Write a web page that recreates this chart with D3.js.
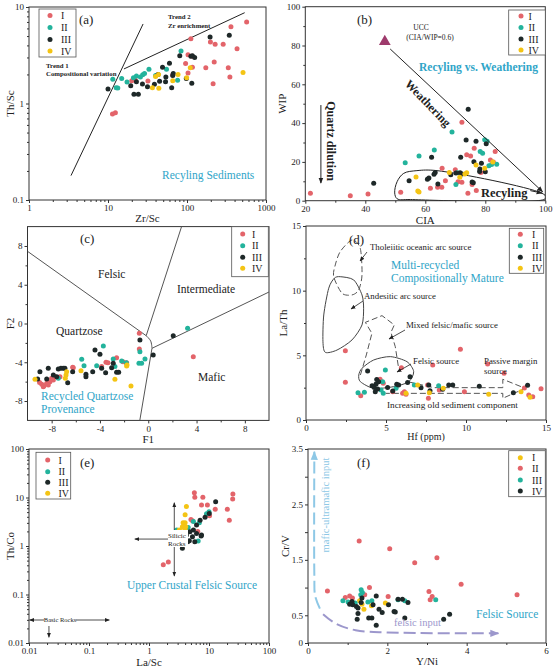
<!DOCTYPE html>
<html><head><meta charset="utf-8">
<script src="https://cdn.jsdelivr.net/npm/d3@7"></script>
<style>
body{margin:0;background:#fff}
svg{display:block}
text{font-family:"Liberation Serif","Times New Roman",serif}
</style>
</head><body>
<svg id="c" width="554" height="670"></svg>
<script>
// ---------------- DATA ----------------
const groups = ["I","II","III","IV"];
// (a) Zr/Sc vs Th/Sc
const aI   = [[569,7.0],[360,6.25],[112,4.7],[198,4.33],[227,4.1],[287,4.1],[430,3.7],[103,3.2],[116,3.08],[96,2.6],[221,2.69],[173,2.35],[333,2.35],[349,1.88],[214,1.6],[117,2.37],[103,2.07],[66,1.97],[32,1.71],[20,1.72],[22,1.77],[11.4,0.78],[12.4,0.80]];
const aII  = [[84,3.5],[33,2.26],[55,2.26],[14.9,1.82],[17.4,1.67],[22.9,1.93],[25.7,1.88],[27.5,1.99],[29,2.05],[12.7,1.46],[13.3,1.45],[11.5,1.78],[76,1.74],[21,1.85],[40,1.95]];
const aIII = [[343,5.1],[196,4.9],[81,3.13],[112,3.08],[117,3.13],[125,3.0],[60,2.61],[49,2.37],[67,2.04],[54,1.88],[19.4,1.53],[22.9,1.68],[27.3,1.59],[38.7,1.58],[31.6,1.49],[53.5,1.68],[64,1.46],[115,1.62],[98,1.82],[21.3,1.25],[24.2,1.25],[10,1.41],[43,2.0],[66,1.95],[45,1.7]];
const aIV  = [[110,2.35],[512,2.1],[43.6,2.0],[77,2.0],[99,1.85],[44,1.44],[36.5,1.46],[66,1.72],[40,1.9]];
const aTrend1 = [[3.4,0.179],[27.8,6.67]];
const aTrend2 = [[15.9,2.28],[537,8.73]];
const logTicksA_x = [1,10,100,1000];
const logTicksA_y = [0.1,1,10];

// (b) CIA vs WIP
const bI   = [[21.7,3.8],[35,2.6],[40.9,3.5],[72.2,40.4],[76.3,27],[73.8,23.7],[75.1,23],[83.3,25.3],[81.7,21],[82.7,20],[65.6,16.7],[66.7,10.3],[64.1,6.9],[65.5,6.9],[61.7,6.4],[70.9,9.8],[72.2,9.5],[75.6,8.3],[51.8,4.3],[74.2,3.8],[77,5.2],[78.5,14.5],[70,16]];
const bII  = [[53.3,19.6],[57.9,23],[68.9,35.4],[63,26.1],[79.8,31.4],[80.6,30.6],[78.3,25.3],[79.1,24.4],[81.2,18],[82.1,18.6],[83.8,18.8],[70.7,14.4],[71.9,13.8],[70.2,8.4]];
const bIII = [[42.8,9.0],[74.3,47.1],[73.6,31.3],[76.9,30.6],[80.3,29.4],[71.8,22.4],[62.1,22.4],[76.2,20.1],[78.7,19.3],[78.2,16.3],[78.1,15.1],[80,14.9],[63.3,14.6],[62.9,13.6],[68.5,13.4],[70.2,14.3],[71.6,14.4],[72.2,13.8],[61.2,11.7],[60.7,11],[54.6,10.3],[64.2,8.6],[75.6,9.6],[76,9.3]];
const bIV  = [[82.5,20],[79.8,16.7],[76.9,18.4],[68,14.6],[73.8,14.4],[73.2,13.8],[71.5,12.1],[56.9,12.2],[57.5,5],[57.9,4.5]];
const bUCC = [46.5,82];
const bWeathering = [[48.3,78.2],[99.1,4.6]];
const bRecycling = [[63.9,15.5],[98.8,3.9],[100.3,1.9],[99.5,0.6],[55,0.6],[50.6,1.0],[49.8,4],[50.6,9.8],[52.8,14.1],[57.2,15.5]];
const bQuartz = [[25.2,49.3],[25.2,9.1]];

// (c) F1 vs F2
const cI   = [[-0.74,-1.01],[-0.74,-2.63],[3.73,-3.42],[-3.5,-4.0],[-2.62,-3.53],[-1.79,-4.04],[-3.86,-4.45],[-6.21,-4.56],[-7.31,-5.49],[-8.82,-6.27],[-8.63,-6.42],[-8.41,-6.17],[-8.14,-6.0],[-7.86,-5.83],[-8.0,-5.66],[-8.28,-6.35],[-8.69,-6.52],[-2.09,-3.94],[-6.26,-4.52],[-3.34,-4.04],[-9.0,-6.1],[-7.7,-5.5]];
const cII  = [[-0.77,-4.1],[-0.55,-4.1],[-0.27,-3.66],[-0.69,-2.91],[3.26,-0.5],[-3.72,-2.32],[-2.9,-3.66],[-2.76,-4.45],[-2.2,-3.87],[-4.27,-4.35],[-5.51,-3.7],[-5.32,-4.35],[-7.45,-5.66],[-1.82,-4.04]];
const cIII = [[-0.69,-1.70],[0.41,-3.25],[2.07,-1.26],[-4.41,-2.73],[-4.0,-3.18],[-2.9,-4.1],[-3.03,-4.56],[-3.86,-4.63],[-2.62,-5.04],[-4.6,-4.97],[-5.16,-5.24],[-5.16,-5.49],[-6.26,-4.97],[-7.23,-4.63],[-7.04,-4.63],[-6.9,-4.63],[-6.67,-6.11],[-7.45,-4.7],[-7.58,-5.49],[-8.28,-4.63],[-8.97,-4.97],[-7.86,-5.31],[-8.41,-5.73],[-9.16,-5.73],[-2.45,-5.04],[-3.53,-5.07]];
const cIV  = [[-1.79,-4.39],[-2.76,-5.76],[-1.43,-6.45],[-5.57,-4.87],[-6.81,-5.31],[-6.76,-4.97],[-6.87,-5.66],[-9.38,-5.76],[-1.76,-4.28]];
const cLine1 = [[-10,7.45],[-0.17,-1.26]];
const cLine2 = [[2.76,10],[-0.17,-1.26]];
const cCurve = [[-0.17,-1.26],[0.2,-1.8],[0.31,-2.56]];
const cLine3 = [[0.31,-2.56],[10,3.25]];
const cLine4 = [[0.31,-2.56],[-0.7,-10]];

// (d) Hf vs La/Th
const dI   = [[2.46,5.36],[2.46,2.91],[9.65,5.47],[11.35,4.33],[7.92,4.25],[12.38,3.61],[5.96,4.04],[4.63,3.15],[4.83,2.84],[3.42,1.88],[6.15,2.19],[6.04,2.06],[6.25,1.99],[5.42,2.19],[7.65,1.68],[7.6,2.71],[8.33,2.32],[9.9,2.19],[13.65,2.48],[13.92,1.93],[14.17,1.8],[14.69,2.41]];
const dII  = [[3.25,2.11],[3.65,2.14],[4.96,3.87],[4.79,2.96],[4.69,2.32],[4.83,2.06],[5.63,2.45],[6.77,2.71],[8.29,2.64]];
const dIII = [[3.85,3.79],[4.13,2.65],[4.27,2.52],[4.38,2.78],[4.48,2.39],[4.54,2.96],[4.42,3.14],[4.33,2.19],[5.1,2.52],[5.42,2.24],[5.67,2.76],[5.79,2.71],[6.5,3.35],[6.35,2.89],[7.19,2.5],[7.67,2.71],[7.75,2.27],[8.54,2.37],[8.92,2.71],[9.17,2.71],[10.83,2.6],[12.96,2.1],[13.85,2.68]];
const dIV  = [[6.98,2.71],[7.71,2.11],[8.58,2.45],[11.42,2.0],[13.44,2.19],[6.25,2.06],[14.0,1.75]];
const dTholeiitic = [[2.875,13.92],[3.39,13.28],[3.5,11.21],[3.29,10.05],[2.875,9.67],[2.25,9.8],[1.73,11.08],[1.83,11.99],[2.14,13.02]];
const dAndesitic = [[2.14,11.08],[2.98,10.83],[3.5,9.67],[3.6,8.64],[3.5,7.35],[2.875,6.19],[1.94,5.41],[1.21,5.23],[1.06,6.05],[1.11,8.12],[1.42,10.19],[1.77,10.96]];
const dMixed = [[3.4,3.48],[3.77,5.03],[4.12,6.7],[3.71,7.55],[4.75,8.07],[5.52,7.35],[5.31,6.78],[5.58,5.67],[5.79,4.0]];
const dFelsic = [[3.5,4.0],[4.23,4.64],[5.27,4.9],[6.31,4.51],[6.73,3.74],[6.42,2.96],[5.48,2.58],[4.23,2.45],[3.4,2.96],[3.3,3.48]];
const dPassive = [[6.4,2.95],[8.0,2.5],[12.3,2.5],[12.3,3.15],[13.7,2.45],[12.3,1.68],[12.3,2.06],[5.0,2.06]];

// (e) La/Sc vs Th/Co
const eI   = [[5.7,12.6],[7.9,10.1],[5.8,10.1],[25,11.8],[24.8,9.3],[7.5,7.0],[9.4,7.0],[12.7,5.7],[20.2,5.7],[21.8,3.4],[10.2,4.2],[9.1,4.4],[5.3,3.3],[1.73,0.41],[2.1,0.47],[5.0,3.5],[6.5,2.0]];
const eII  = [[10,5.1],[9.1,4.6],[6.9,3.0],[5.5,3.2],[2.9,2.14],[6.6,1.27],[4.5,2.4],[3.4,1.7]];
const eIII = [[12.9,8.2],[10.1,4.7],[8.6,3.9],[7.1,3.4],[6.2,2.7],[5.5,2.14],[4.8,1.97],[4.2,1.69],[3.5,1.44],[6.2,1.82],[5.3,1.56],[4.7,1.29],[3.7,1.1],[7.5,1.69],[3.6,0.9],[5.8,1.23],[4.4,1.23],[7.4,1.6]];
const eIV  = [[4.2,6.5],[4.0,4.4],[3.7,3.0],[4.0,3.0],[3.6,2.5],[4.1,2.5],[3.5,1.97],[4.0,2.14],[3.3,1.44],[3.2,2.14]];
const eSilicicV = [[2.64,7.8],[2.64,0.24]];
const eSilicicH = [[2.64,1.39],[0.58,1.39]];
const eBasicH = [[0.0102,0.0298],[0.218,0.0298]];
const eBasicV = [[0.0215,0.0224],[0.0215,0.0131]];
const logTicksE = [0.01,0.1,1,10,100];

// (f) Y/Ni vs Cr/V  (legend: I yellow, II red, III teal, IV dark)
const fI   = [[1.3,0.76],[1.36,0.7],[1.41,0.61],[1.95,0.72],[1.6,0.67]];
const fII  = [[0.49,0.94],[0.94,0.82],[1.05,0.85],[1.12,0.81],[1.55,1.0],[1.43,0.87],[2.02,0.84],[3.05,0.93],[3.08,0.78],[3.13,0.84],[1.29,1.84],[2.06,1.70],[2.69,1.45],[3.25,1.54],[3.86,1.06],[5.27,0.87]];
const fIII = [[1.34,0.96],[1.37,0.91],[1.33,0.87],[0.88,0.76],[1.01,0.74],[1.19,0.72],[1.51,0.74],[1.61,0.76],[2.44,0.76],[2.27,0.78],[3.22,0.78]];
const fIV  = [[1.11,0.75],[1.13,0.69],[1.05,0.7],[1.22,0.66],[1.26,0.63],[1.26,0.53],[1.24,0.43],[1.34,0.73],[1.36,0.81],[1.64,0.69],[1.72,0.85],[1.61,0.45],[1.79,0.61],[1.87,0.55],[2.03,0.69],[2.17,0.57],[2.27,0.79],[2.38,0.79],[2.52,0.73],[2.44,0.45],[1.72,0.32],[3.57,0.52],[3.42,0.43],[1.53,0.45],[2.2,0.56]];
const fMafic = [[0.3,0.62],[0.18,0.85],[0.16,1.2],[0.16,3.45]];
const fFelsic = [[0.38,0.52],[0.7,0.35],[1.2,0.23],[2.0,0.19],[4.8,0.175]];
const fYTicks = [0,0.5,1,1.5,2,2.5,3,3.5];
const fYLabels = [0,0.5,1.5,2.5,3.5];

// ---------------- DRAWING ----------------
const RED="#e3646a", TEAL="#23b39c", DARK="#1e2828", YEL="#f4c414", CAP="#2fa5c8";
const colsStd = [RED,TEAL,DARK,YEL];
const colsF = [YEL,RED,TEAL,DARK];
const svg = d3.select("#c");
const defs = svg.append("defs");
function marker(id,color,size){
  defs.append("marker").attr("id",id).attr("viewBox","0 0 10 10").attr("refX",9).attr("refY",5)
    .attr("markerWidth",size).attr("markerHeight",size).attr("markerUnits","userSpaceOnUse")
    .attr("orient","auto-start-reverse").append("path").attr("d","M0,1 L10,5 L0,9 Z").attr("fill",color);
}
marker("ah","#222",6); marker("ahs","#222",5); marker("ahb","#8ec8e6",9); marker("ahp","#9c97cc",9);

function logMinor(dom){const out=[];for(let d=dom[0];d<dom[1];d*=10){for(let k=2;k<=9;k++)out.push(d*k);}return out;}

function panel(o){
  const g = svg.append("g");
  const x = (o.xlog?d3.scaleLog():d3.scaleLinear()).domain(o.xd).range([o.l,o.r]);
  const y = (o.ylog?d3.scaleLog():d3.scaleLinear()).domain(o.yd).range([o.b,o.t]);
  const cid="clip-"+o.id;
  defs.append("clipPath").attr("id",cid).append("rect").attr("x",o.l).attr("y",o.t).attr("width",o.r-o.l).attr("height",o.b-o.t);
  const style = s => { s.attr("font-family","Liberation Serif").attr("font-size",9); s.select(".domain").remove(); s.selectAll("line").attr("stroke","#333"); s.selectAll("text").attr("fill","#222"); };
  if(o.xminor) g.append("g").attr("transform",`translate(0,${o.b})`).call(d3.axisBottom(x).tickValues(o.xminor).tickFormat("").tickSize(2)).call(style);
  if(o.yminor) g.append("g").attr("transform",`translate(${o.l},0)`).call(d3.axisLeft(y).tickValues(o.yminor).tickFormat("").tickSize(2)).call(style);
  g.append("g").attr("transform",`translate(0,${o.b})`).call(d3.axisBottom(x).tickValues(o.xt).tickFormat(o.xf||(d=>String(d))).tickSize(3).tickPadding(2)).call(style);
  g.append("g").attr("transform",`translate(${o.l},0)`).call(d3.axisLeft(y).tickValues(o.yt).tickFormat(o.yf||(d=>String(d))).tickSize(3).tickPadding(2)).call(style);
  g.append("rect").attr("x",o.l).attr("y",o.t).attr("width",o.r-o.l).attr("height",o.b-o.t).attr("fill","none").attr("stroke","#333").attr("stroke-width",1);
  // axis titles
  g.append("text").attr("x",(o.l+o.r)/2).attr("y",o.b+(o.xty||21)).attr("text-anchor","middle").attr("font-size",o.xtFont||11).attr("font-family",o.xtFam||null).attr("fill","#222").text(o.xtitle);
  g.append("text").attr("transform",`translate(${o.ytx},${(o.t+o.b)/2}) rotate(-90)`).attr("text-anchor","middle").attr("font-size",11).attr("fill","#222").text(o.ytitle);
  const pg = g.append("g").attr("clip-path",`url(#${cid})`);
  const line = d3.line().x(d=>x(d[0])).y(d=>y(d[1]));
  return {g,x,y,pg,line};
}
function dots(P,data,color){
  P.pg.append("g").selectAll("circle").data(data).join("circle")
    .attr("cx",d=>P.x(d[0])).attr("cy",d=>P.y(d[1])).attr("r",2.5).attr("fill",color);
}
function legend(box,dx,tx,rows,cols){
  const g=svg.append("g");
  g.append("rect").attr("x",box[0]).attr("y",box[1]).attr("width",box[2]-box[0]).attr("height",box[3]-box[1]).attr("fill","#fff").attr("stroke","#555").attr("stroke-width",0.8);
  groups.forEach((k,i)=>{
    g.append("circle").attr("cx",dx).attr("cy",rows[i]).attr("r",2.5).attr("fill",cols[i]);
    g.append("text").attr("x",tx).attr("y",rows[i]+3.5).attr("font-size",10).attr("fill","#222").text(k);
  });
}
function txt(parent,x,y,s,opt={}){
  const t=parent.append("text").attr("x",x).attr("y",y).attr("font-size",opt.size||9).attr("fill",opt.fill||"#222").text(s);
  if(opt.bold) t.attr("font-weight","bold");
  if(opt.anchor) t.attr("text-anchor",opt.anchor);
  if(opt.rot!==undefined) t.attr("transform",`rotate(${opt.rot},${x},${y})`);
  return t;
}

// ---- (a)
{
const P = panel({id:"a",xlog:true,ylog:true,xd:[1,1000],yd:[0.1,10],l:29,r:266,t:7,b:200,
  xt:logTicksA_x,yt:logTicksA_y,xminor:logMinor([1,1000]),yminor:logMinor([0.1,10]),
  xtitle:"Zr/Sc",ytitle:"Th/Sc",ytx:14,xty:22});
P.pg.append("path").attr("d",P.line(aTrend1)).attr("stroke","#222").attr("stroke-width",1).attr("fill","none");
P.pg.append("path").attr("d",P.line(aTrend2)).attr("stroke","#222").attr("stroke-width",1).attr("fill","none");
txt(P.g,168,19,"Trend 2",{size:6.8,bold:true});
txt(P.g,168,28,"Zr enrichment",{size:6.8,bold:true});
txt(P.g,46,68,"Trend 1",{size:6.8,bold:true});
txt(P.g,46,76,"Compositional variation",{size:6.8,bold:true});
txt(P.g,79,24,"(a)",{size:13});
txt(P.g,162,179,"Recyling Sediments",{size:11.5,fill:CAP});
[aI,aII,aIII,aIV].forEach((d,i)=>dots(P,d,colsStd[i]));
legend([39,9,76,57],50,61,[15.5,27.5,39.5,51],colsStd);
}
// ---- (b)
{
const P = panel({id:"b",xd:[20,100],yd:[0,100],l:305.3,r:545.3,t:6.7,b:200.7,
  xt:[20,40,60,80,100],yt:[0,20,40,60,80,100],xminor:[30,50,70,90],yminor:[10,30,50,70,90],
  xtitle:"CIA",ytitle:"WIP",ytx:286,xty:23.5});
P.pg.append("path").attr("d",d3.line().x(d=>P.x(d[0])).y(d=>P.y(d[1])).curve(d3.curveCatmullRomClosed.alpha(0.5))(bRecycling))
  .attr("stroke","#222").attr("stroke-width",1).attr("fill","none");
P.g.append("path").attr("d",P.line([[95,5.2],[98.9,3.9]])).attr("stroke","#222").attr("stroke-width",1).attr("marker-end","url(#ah)");
P.g.append("path").attr("d",P.line(bWeathering)).attr("stroke","#222").attr("stroke-width",1).attr("marker-end","url(#ah)");
P.g.append("path").attr("d",P.line(bQuartz)).attr("stroke","#222").attr("stroke-width",1).attr("marker-end","url(#ah)");
const ux=P.x(bUCC[0]), uy=P.y(bUCC[1]);
P.g.append("path").attr("d",d3.symbol(d3.symbolTriangle,60)()).attr("transform",`translate(${ux},${uy})`).attr("fill","#9e3a6c");
txt(P.g,421,30,"UCC",{size:7.5,anchor:"middle"});
txt(P.g,430,40,"(CIA/WIP=0.6)",{size:7.5,anchor:"middle"});
txt(P.g,357,24,"(b)",{size:13});
txt(P.g,419,71,"Recyling vs. Weathering",{size:11.5,bold:true,fill:CAP});
txt(P.g,425,106,"Weathering",{size:12,bold:true,anchor:"middle",rot:46});
txt(P.g,481,197,"Recyling",{size:12.5,bold:true});
txt(P.g,327,141,"Quartz dilution",{size:12,bold:true,anchor:"middle",rot:90});
[bI,bII,bIII,bIV].forEach((d,i)=>dots(P,d,colsStd[i]));
legend([508.7,10,545.3,55],521,528.5,[16,27.5,39,50],colsStd);
}
// ---- (c)
{
const P = panel({id:"c",xd:[-10,10],yd:[-10,10],l:27.5,r:269,t:226.6,b:420.4,
  xt:[-8,-4,0,4,8],yt:[-8,-4,0,4,8],xminor:[-6,-2,2,6],yminor:[-6,-2,2,6],
  xtitle:"F1",ytitle:"F2",ytx:14,xty:23});
[cLine1,cLine2,cLine3,cLine4].forEach(l=>P.pg.append("path").attr("d",P.line(l)).attr("stroke","#555").attr("stroke-width",1).attr("fill","none"));
P.pg.append("path").attr("d",d3.line().x(d=>P.x(d[0])).y(d=>P.y(d[1])).curve(d3.curveCatmullRom)(cCurve)).attr("stroke","#555").attr("stroke-width",1).attr("fill","none");
txt(P.g,80,243,"(c)",{size:13});
txt(P.g,98,278,"Felsic",{size:11.5});
txt(P.g,177,293,"Intermediate",{size:11.5});
txt(P.g,56,335,"Quartzose",{size:11.5});
txt(P.g,198,381,"Mafic",{size:11.5});
txt(P.g,41,399.5,"Recycled Quartzose",{size:11.5,fill:CAP});
txt(P.g,41,413,"Provenance",{size:11.5,fill:CAP});
[cI,cII,cIII,cIV].forEach((d,i)=>dots(P,d,colsStd[i]));
legend([231.7,226.7,268.3,276.7],242.7,252,[234,245.7,257.3,268.3],colsStd);
}
// ---- (d)
{
const P = panel({id:"d",xd:[0,15],yd:[0,15],l:306,r:546,t:226,b:420,
  xt:[0,5,10,15],yt:[0,5,10,15],xminor:[2.5,7.5,12.5],yminor:[2.5,7.5,12.5],
  xtitle:"Hf (ppm)",xtFont:10,xtFam:"Liberation Sans",xty:20,ytitle:"La/Th",ytx:287});
const closed = d3.line().x(d=>P.x(d[0])).y(d=>P.y(d[1])).curve(d3.curveCardinalClosed.tension(0.2));
P.pg.append("path").attr("d",closed(dTholeiitic)).attr("stroke","#555").attr("stroke-dasharray","6,3").attr("fill","none");
P.pg.append("path").attr("d",closed(dAndesitic)).attr("stroke","#444").attr("fill","none");
P.pg.append("path").attr("d",closed(dFelsic)).attr("stroke","#444").attr("fill","none");
P.pg.append("path").attr("d",P.line(dMixed)).attr("stroke","#555").attr("stroke-dasharray","6,3").attr("fill","none");
P.pg.append("path").attr("d",P.line(dPassive)).attr("stroke","#555").attr("stroke-dasharray","6,3").attr("fill","none");
const arr=(a,b)=>P.g.append("line").attr("x1",a[0]).attr("y1",a[1]).attr("x2",b[0]).attr("y2",b[1]).attr("stroke","#222").attr("stroke-width",0.8).attr("marker-end","url(#ahs)");
arr([367,252],[360,261]); arr([363,301],[351,309]); arr([405,330],[389,339]); arr([411,364],[397,372]);
txt(P.g,349,244,"(d)",{size:13});
txt(P.g,370,250,"Tholeiitic oceanic arc source",{size:8.8});
txt(P.g,364,299,"Andesitic arc source",{size:8.8});
txt(P.g,406,328,"Mixed felsic/mafic source",{size:8.8});
txt(P.g,413,364,"Felsic source",{size:8.8});
txt(P.g,484,364,"Passive margin",{size:8.8});
txt(P.g,484,373.5,"source",{size:8.8});
txt(P.g,387,408,"Increasing old sediment component",{size:9.2});
txt(P.g,391,268.5,"Multi-recycled",{size:11.5,fill:CAP});
txt(P.g,391,282,"Compositionally Mature",{size:11.5,fill:CAP});
[dI,dII,dIII,dIV].forEach((d,i)=>dots(P,d,colsStd[i]));
legend([509.3,228.3,543.7,273.3],520.3,532,[234.3,245.7,257.3,268.3],colsStd);
}
// ---- (e)
{
const P = panel({id:"e",xlog:true,ylog:true,xd:[0.01,100],yd:[0.01,100],l:29,r:269,t:449,b:643,
  xt:logTicksE,yt:logTicksE,xminor:logMinor([0.01,100]),yminor:logMinor([0.01,100]),
  xtitle:"La/Sc",ytitle:"Th/Co",ytx:14,xty:23});
const ln=(d,s,e)=>{const p=P.g.append("path").attr("d",P.line(d)).attr("stroke","#222").attr("stroke-width",0.8).attr("fill","none");if(e)p.attr("marker-end","url(#ahs)");if(s)p.attr("marker-start","url(#ahs)");};
ln(eSilicicV,true,true); ln(eSilicicH,false,true); ln(eBasicH,true,true); ln(eBasicV,false,true);
const bx=P.x(0.0329), by=P.y(0.0298);
P.g.append("rect").attr("x",bx-16).attr("y",by-4).attr("width",32).attr("height",8).attr("fill","#fff");
txt(P.g,bx,by+2.2,"Basic Rocks",{size:6.5,anchor:"middle"});
P.g.append("rect").attr("x",168).attr("y",530).attr("width",20).attr("height",17).attr("fill","#fff");
txt(P.g,168,538,"Silicic",{size:7});
txt(P.g,168,546,"Rocks",{size:7});
txt(P.g,80,467,"(e)",{size:13});
txt(P.g,127,589,"Upper Crustal Felsic Source",{size:11.5,fill:CAP});
[eI,eII,eIII,eIV].forEach((d,i)=>dots(P,d,colsStd[i]));
legend([36,452.3,70.7,499],47.7,58.5,[460,471.7,482.3,493.3],colsStd);
}
// ---- (f)
{
const P = panel({id:"f",xd:[0,6],yd:[0,3.5],l:308,r:546,t:449,b:643,
  xt:[0,2,4,6],yt:fYTicks,yf:d=>fYLabels.includes(d)?String(d):"",xminor:[1,3,5],
  xtitle:"Y/Ni",ytitle:"Cr/V",ytx:289,xty:22});
const sm = d3.line().x(d=>P.x(d[0])).y(d=>P.y(d[1])).curve(d3.curveCatmullRom);
P.g.append("path").attr("d",sm(fMafic)).attr("stroke","#8ec8e6").attr("stroke-width",2).attr("stroke-dasharray","12,5").attr("fill","none").attr("marker-end","url(#ahb)");
P.g.append("path").attr("d",sm(fFelsic)).attr("stroke","#9c97cc").attr("stroke-width",2).attr("stroke-dasharray","12,5").attr("fill","none").attr("marker-end","url(#ahp)");
txt(P.g,329,505,"mafic-ultramafic input",{size:10.5,fill:"#8ec8e6",anchor:"middle",rot:-90});
txt(P.g,394,626,"felsic input",{size:10.5,fill:"#9c97cc"});
txt(P.g,476,618,"Felsic Source",{size:11.5,fill:CAP});
txt(P.g,357,467,"(f)",{size:13});
[fI,fII,fIII,fIV].forEach((d,i)=>dots(P,d,colsF[i]));
legend([508.7,450.7,545.3,496.7],520.3,532,[457.7,468.3,480,491],colsF);
}
</script>
</body></html>
